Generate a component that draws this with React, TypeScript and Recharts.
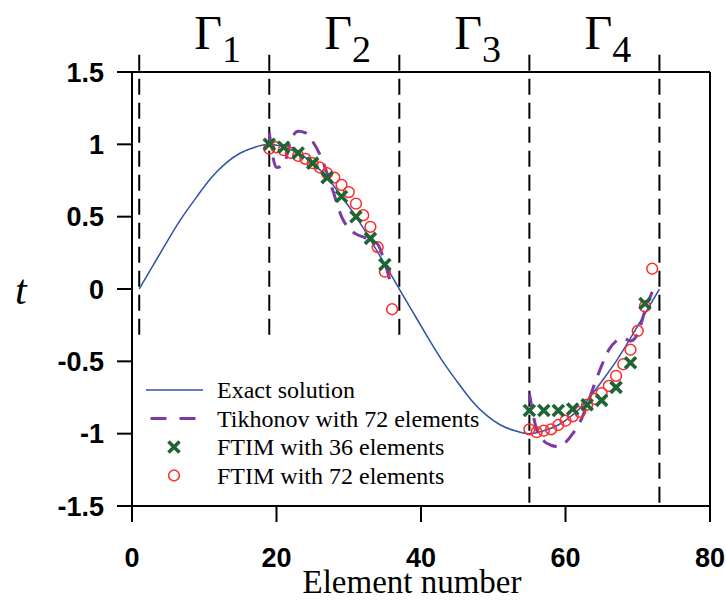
import React from 'react';
import { ComposedChart, Line, Scatter, XAxis, YAxis, ReferenceLine, ReferenceDot, Legend, Label } from 'recharts';

// ---------- data ----------
const exactX = [1, 3, 5, 7, 9, 11, 13, 15, 17, 19, 21, 23, 25, 27, 29, 31, 33, 35, 37, 39, 41, 43, 45, 47, 49, 51, 53, 55, 57, 59, 61, 63, 65, 67, 69, 71, 73];
const exactT = [0, 0.17, 0.34, 0.5, 0.64, 0.77, 0.87, 0.94, 0.98, 1, 0.98, 0.94, 0.87, 0.77, 0.64, 0.5, 0.34, 0.17, 0, -0.17, -0.34, -0.5, -0.64, -0.77, -0.87, -0.94, -0.98, -1, -0.98, -0.94, -0.87, -0.77, -0.64, -0.5, -0.34, -0.17, 0];

const tikX = [19, 20, 21, 22, 23, 24, 25, 26, 27, 28, 29, 30, 31, 32, 33, 34, 35, 36, 45, 55, 56, 57, 58, 59, 60, 61, 62, 63, 64, 65, 66, 67, 68, 69, 70, 71, 72];
const tikT = [1.08, 0.84, 0.86, 1.03, 1.09, 1.08, 1.02, 0.93, 0.8, 0.65, 0.5, 0.42, 0.38, 0.36, 0.34, 0.31, 0.18, 0.0, null, -0.72, -0.97, -1.05, -1.08, -1.09, -1.06, -1.0, -0.92, -0.8, -0.66, -0.53, -0.42, -0.36, -0.34, -0.36, -0.31, -0.15, -0.02];

const f36X = [19, 21, 23, 25, 27, 29, 31, 33, 35, 55, 57, 59, 61, 63, 65, 67, 69, 71];
const f36T = [1.0, 0.98, 0.94, 0.87, 0.77, 0.64, 0.5, 0.35, 0.17, -0.84, -0.84, -0.84, -0.83, -0.8, -0.77, -0.68, -0.51, -0.1];

const f72X = [19, 20, 21, 22, 23, 24, 25, 26, 27, 28, 29, 30, 31, 32, 33, 34, 35, 36, 55, 56, 57, 58, 59, 60, 61, 62, 63, 64, 65, 66, 67, 68, 69, 70, 71, 72];
const f72T = [0.97, 0.98, 0.96, 0.94, 0.92, 0.9, 0.87, 0.84, 0.8, 0.77, 0.72, 0.67, 0.59, 0.51, 0.43, 0.29, 0.12, -0.14, -0.97, -0.99, -0.98, -0.97, -0.94, -0.91, -0.88, -0.85, -0.8, -0.76, -0.72, -0.67, -0.6, -0.52, -0.42, -0.29, -0.12, 0.14];

const boundaryX = [1, 19, 37, 55, 73];
const boundaryTop = 1.62;
const boundaryBottom = [-0.35, -0.35, -0.35, -1.5, -1.5];

const regionCenters = [10, 28, 46, 64];
const regionSubs = ['1', '2', '3', '4'];

const xTicks = [0, 20, 40, 60, 80];
const yTicks = [-1.5, -1, -0.5, 0, 0.5, 1, 1.5];

const legendNames = ['Exact solution', 'Tikhonov with 72 elements', 'FTIM with 36 elements', 'FTIM with 72 elements'];

const exactData = exactX.map((x, i) => ({ x, t: exactT[i] }));
const tikData = tikX.map((x, i) => ({ x, t: tikT[i] }));
const f36Data = f36X.map((x, i) => ({ x, t: f36T[i] }));
const f72Data = f72X.map((x, i) => ({ x, t: f72T[i] }));

// ---------- styles ----------
const W = 726;
const H = 600;
const BLUE = '#3150A8';
const PURPLE = '#7B3BA3';
const GREEN = '#1D6535';
const RED = '#FF2B2B';
const SERIF = '"Liberation Serif", "Times New Roman", serif';
const SANS = '"Liberation Sans", Arial, sans-serif';

const XMark = (p: any) => {
  const { cx, cy } = p;
  if (cx == null || cy == null) return null;
  const s = 5.5;
  return (
    <path
      d={`M${cx - s},${cy - s}L${cx + s},${cy + s}M${cx - s},${cy + s}L${cx + s},${cy - s}`}
      stroke={GREEN}
      strokeWidth={3.6}
      fill="none"
    />
  );
};

const OMark = (p: any) => {
  const { cx, cy } = p;
  if (cx == null || cy == null) return null;
  return <circle cx={cx} cy={cy} r={5.4} stroke={RED} strokeWidth={1.5} fill="none" />;
};

const GammaLabel = (p: any) => {
  const { viewBox, sub } = p;
  if (!viewBox) return null;
  const cx = viewBox.x + (viewBox.width || 0) / 2;
  return (
    <text x={cx - 10} y={49} fontFamily={SERIF} fontSize={48} fill="#000">
      <tspan>Γ</tspan>
      <tspan fontSize={38} dy={13}>{sub}</tspan>
    </text>
  );
};

const renderLegend = () => {
  const rows = [15, 43.5, 72, 100.5];
  return (
    <svg width={360} height={115} style={{ display: 'block' }}>
      <line x1={6} x2={63} y1={rows[0]} y2={rows[0]} stroke={BLUE} strokeWidth={1.6} />
      <line x1={10.5} x2={60} y1={rows[1]} y2={rows[1]} stroke={PURPLE} strokeWidth={3} strokeDasharray="16 13" />
      <XMark cx={34} cy={rows[2]} />
      <OMark cx={34} cy={rows[3]} />
      {legendNames.map((n, i) => (
        <text key={n} x={77} y={rows[i] + 8} fontFamily={SERIF} fontSize={24} fill="#000">
          {n}
        </text>
      ))}
    </svg>
  );
};

export default function App() {
  return (
    <div style={{ position: 'absolute', left: 0, top: 0, width: W, height: H, background: '#fff' }}>
      <ComposedChart width={W} height={H} margin={{ top: 72, right: 16, bottom: 0, left: 0 }}>
        <XAxis
          dataKey="x"
          type="number"
          domain={[0, 80]}
          allowDataOverflow
          ticks={xTicks}
          interval={0}
          height={94}
          tickSize={16}
          tickMargin={26}
          axisLine={{ stroke: '#000', strokeWidth: 2 }}
          tickLine={{ stroke: '#000', strokeWidth: 2 }}
          tick={{ fill: '#000', fontSize: 27, fontWeight: 'bold', fontFamily: SANS }}
        >
          <Label
            value="Element number"
            position="insideBottom"
            offset={7}
            dx={-9}
            style={{ fill: '#000', fontSize: 33, fontFamily: SERIF }}
          />
        </XAxis>
        <YAxis
          type="number"
          domain={[-1.5, 1.5]}
          allowDataOverflow
          ticks={yTicks}
          interval={0}
          width={132}
          tickSize={15}
          tickMargin={13}
          axisLine={{ stroke: '#000', strokeWidth: 2 }}
          tickLine={{ stroke: '#000', strokeWidth: 2 }}
          tick={{ fill: '#000', fontSize: 27, fontWeight: 'bold', fontFamily: SANS }}
        >
          <Label
            value="t"
            position="insideLeft"
            offset={15}
            style={{ fill: '#000', fontSize: 42, fontStyle: 'italic', fontFamily: SERIF }}
          />
        </YAxis>

        <ReferenceLine y={1.5} stroke="#000" strokeWidth={2} ifOverflow="visible" />
        <ReferenceLine x={80} stroke="#000" strokeWidth={2} ifOverflow="visible" />
        {boundaryX.map((bx, i) => (
          <ReferenceLine
            key={bx}
            segment={[{ x: bx, y: boundaryTop }, { x: bx, y: boundaryBottom[i] }]}
            stroke="#000"
            strokeWidth={2}
            strokeDasharray="16 8"
            ifOverflow="visible"
          />
        ))}
        {regionCenters.map((c, i) => (
          <ReferenceDot
            key={c}
            x={c}
            y={1.5}
            r={1}
            fill="none"
            stroke="none"
            ifOverflow="visible"
            label={<GammaLabel sub={regionSubs[i]} />}
          />
        ))}

        <Line data={exactData} dataKey="t" type="natural" stroke={BLUE} strokeWidth={1.5} dot={false} isAnimationActive={false} />
        <Line data={tikData} dataKey="t" type="monotone" stroke={PURPLE} strokeWidth={3} strokeDasharray="15 10" dot={false} connectNulls={false} isAnimationActive={false} />
        <Scatter data={f72Data} dataKey="t" shape={<OMark />} isAnimationActive={false} />
        <Scatter data={f36Data} dataKey="t" shape={<XMark />} isAnimationActive={false} />

        <Legend
          layout="vertical"
          align="center"
          verticalAlign="middle"
          wrapperStyle={{ position: 'absolute', left: 140, top: 375, width: 360, height: 115 }}
          content={renderLegend}
        />
      </ComposedChart>
    </div>
  );
}
